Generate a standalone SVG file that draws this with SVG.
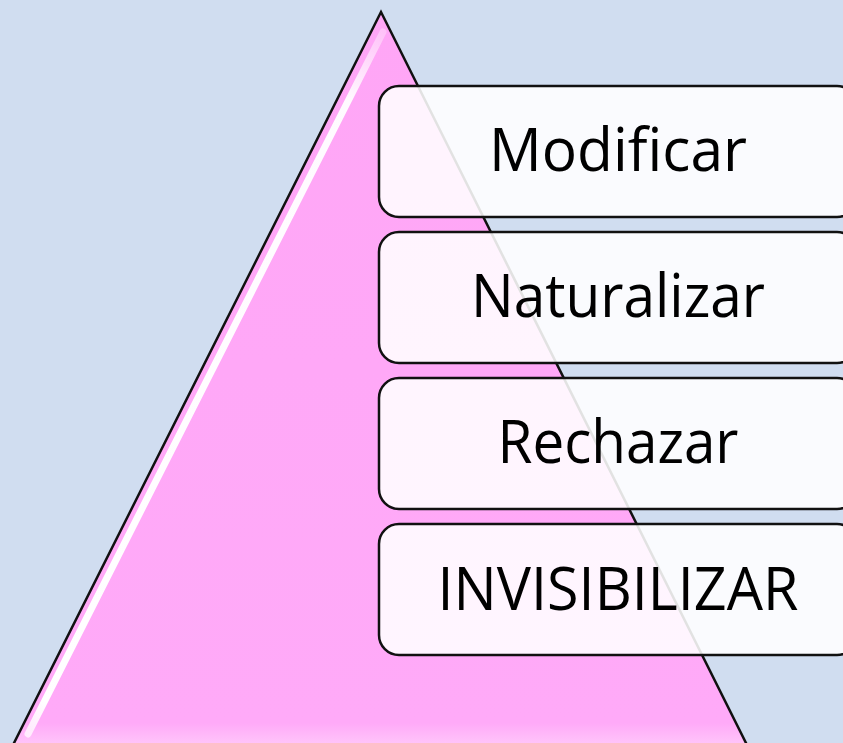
<svg xmlns="http://www.w3.org/2000/svg" width="843" height="743" viewBox="0 0 843 743">
  <defs>
    <linearGradient id="tri" x1="0" y1="0" x2="0" y2="1">
      <stop offset="0" stop-color="#FFA6F6"/>
      <stop offset="0.97" stop-color="#FFAAF8"/>
      <stop offset="1" stop-color="#FFC6FA"/>
    </linearGradient>
    <linearGradient id="hl" x1="383" y1="30" x2="26" y2="736" gradientUnits="userSpaceOnUse">
      <stop offset="0" stop-color="#FFFFFF" stop-opacity="0.3"/>
      <stop offset="0.1" stop-color="#FFFFFF" stop-opacity="0.95"/>
      <stop offset="0.95" stop-color="#FFFFFF" stop-opacity="1"/>
      <stop offset="1" stop-color="#FFFFFF" stop-opacity="0.7"/>
    </linearGradient>
    <filter id="blur" x="-10%" y="-10%" width="120%" height="120%">
      <feGaussianBlur stdDeviation="0.7"/>
    </filter>
  </defs>
  <style>
    .box { fill: #FFFFFF; fill-opacity: 0.88; stroke: #111111; stroke-width: 2.5; }
    .lbl { font-family: "Open Sans", "Liberation Sans", sans-serif; font-size: 60px; fill: #000000; text-anchor: middle; }
  </style>
  <rect x="0" y="0" width="843" height="743" fill="#D0DDF0"/>
  <g id="pyramid">
    <polygon points="381,12 13,745 747,745" fill="url(#tri)" stroke="#111111" stroke-width="2.5" stroke-linejoin="miter"/>
    <line x1="383" y1="32" x2="28" y2="734" stroke="url(#hl)" stroke-width="7" stroke-linecap="round" filter="url(#blur)"/>
  </g>
  <g id="node-modificar">
    <rect class="box" x="379" y="86" width="478" height="131" rx="20" ry="20"/>
    <text class="lbl" x="618" y="171" textLength="258" lengthAdjust="spacingAndGlyphs">Modificar</text>
  </g>
  <g id="node-naturalizar">
    <rect class="box" x="379" y="232" width="478" height="131" rx="20" ry="20"/>
    <text class="lbl" x="618" y="317" textLength="294" lengthAdjust="spacingAndGlyphs">Naturalizar</text>
  </g>
  <g id="node-rechazar">
    <rect class="box" x="379" y="378" width="478" height="131" rx="20" ry="20"/>
    <text class="lbl" x="618" y="463" textLength="241" lengthAdjust="spacingAndGlyphs">Rechazar</text>
  </g>
  <g id="node-invisibilizar">
    <rect class="box" x="379" y="524" width="478" height="131" rx="20" ry="20"/>
    <text class="lbl" x="618" y="610" textLength="361" lengthAdjust="spacingAndGlyphs">INVISIBILIZAR</text>
  </g>
  <g id="connectors"/>
</svg>
